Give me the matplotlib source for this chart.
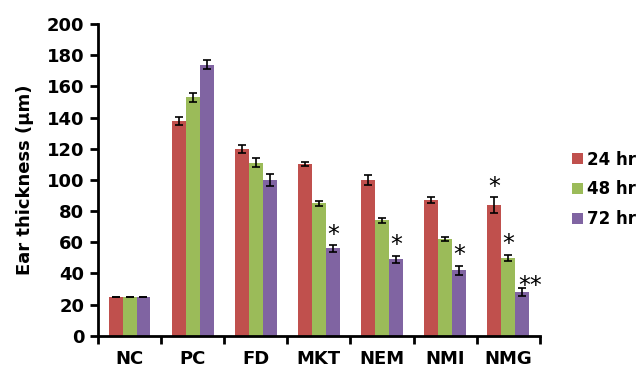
import numpy as np
import matplotlib.pyplot as plt
plt.switch_backend('agg')

plt.rcParams['font.family'] = ['DejaVu Sans']
plt.rcParams['font.weight'] = 'bold'

groups = ['NC', 'PC', 'FD', 'MKT', 'NEM', 'NMI', 'NMG']
series = ['24 hr', '48 hr', '72 hr']
colors = ['#C0504D', '#9BBB59', '#8064A2']

# mean ear thickness (um) per group, one list per time point
vals_24 = [25, 138, 120, 110, 100, 87, 84]
vals_48 = [25, 153, 111, 85, 74, 62, 50]
vals_72 = [25, 174, 100, 56, 49, 42, 28]
err_24 = [0, 2.5, 2.5, 1.2, 3, 2, 5]
err_48 = [0, 3, 3, 1.5, 1.5, 1.5, 2]
err_72 = [0, 3, 4, 2, 2.5, 3, 2.5]

# significance marks: (group index, series index, text)
stars = [(3, 2, '*'), (4, 2, '*'), (5, 2, '*'), (6, 0, '*'), (6, 1, '*'), (6, 2, '**')]

values = [vals_24, vals_48, vals_72]
errors = [err_24, err_48, err_72]

fig = plt.figure(figsize=(6.41, 3.71), dpi=100)
ax = fig.add_axes([0.153, 0.095, 0.689, 0.84])

x = np.arange(len(groups))
w = 0.22
for i in range(3):
    pos = x + (i - 1) * w
    ax.bar(pos, values[i], w, color=colors[i], label=series[i], zorder=2)
    ax.errorbar(pos, values[i], yerr=errors[i], fmt='none', ecolor='black',
                elinewidth=1.2, capsize=3, capthick=1.2, zorder=3)

for g, s, txt in stars:
    xp = x[g] + (s - 1) * w
    yp = values[s][g] + errors[s][g] - 1
    if txt == '**':
        xp += 0.13
        yp -= 5
    ax.text(xp, yp, txt, ha='center', va='bottom', fontsize=17, fontweight='normal')

ax.set_xlim(-0.5, len(groups) - 0.5)
ax.set_ylim(0, 200)
ax.set_yticks(np.arange(0, 201, 20))
ax.set_xticks(x)
ax.set_xticklabels(groups)
ax.set_xticks(np.arange(-0.5, len(groups), 1), minor=True)
ax.tick_params(axis='x', which='major', length=0, labelsize=13, pad=10)
ax.tick_params(axis='x', which='minor', length=6, width=2, direction='out')
ax.tick_params(axis='y', length=6, width=2, labelsize=13, pad=4)

for side in ['top', 'right']:
    ax.spines[side].set_visible(False)
for side in ['left', 'bottom']:
    ax.spines[side].set_linewidth(2)

ax.set_ylabel('Ear thickness (µm)', fontsize=13, fontweight='bold', labelpad=9)

ax.legend(loc='center left', bbox_to_anchor=(1.058, 0.47), frameon=False,
          fontsize=12, handlelength=0.65, handleheight=0.65, handletextpad=0.25,
          labelspacing=0.7, borderaxespad=0.0)

fig.savefig('out.png', dpi=100)
